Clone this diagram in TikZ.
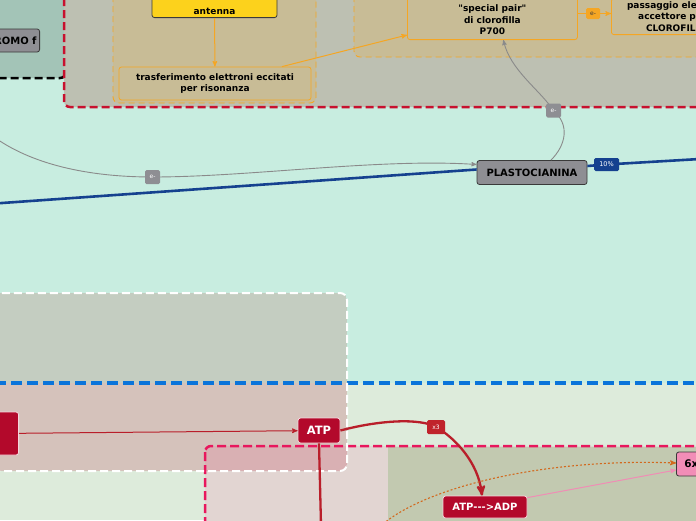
\documentclass[tikz,border=0pt]{standalone}
\usepackage{fontspec}
\setmainfont{DejaVu Sans}[Ligatures=TeXOff]
\usepackage{xcolor}
\usepackage{tikz}
\usetikzlibrary{positioning, arrows, calc, shapes}
\definecolor{mintbg}{HTML}{C8EDE0}
\definecolor{lightbg}{HTML}{DDEBDB}
\definecolor{tealzone}{HTML}{A3C4B7}
\definecolor{greyzone}{HTML}{BDC0B2}
\definecolor{tanzone}{HTML}{C8BC96}
\definecolor{whitezone}{HTML}{C4CDC1}
\definecolor{lowpink}{HTML}{E2D5D2}
\definecolor{lowolive}{HTML}{C2C9B0}
\definecolor{crimsonline}{HTML}{C8102E}
\definecolor{pinkline}{HTML}{E8175D}
\definecolor{bluedash}{HTML}{0A74DA}
\definecolor{orangeline}{HTML}{F5A623}
\definecolor{sunfill}{HTML}{FCD21C}
\definecolor{greyfill}{HTML}{8E8E93}
\definecolor{greyedge}{HTML}{3A3A3A}
\definecolor{greyarrow}{HTML}{8A8A8A}
\definecolor{bluelink}{HTML}{15418F}
\definecolor{crimson}{HTML}{B3092B}
\definecolor{atpedge}{HTML}{F5D5DC}
\definecolor{redarrow}{HTML}{B91E2A}
\definecolor{redtagfill}{HTML}{C0232B}
\definecolor{pinknode}{HTML}{F28DB7}
\definecolor{pinkarrow}{HTML}{F08DB5}
\definecolor{dotorange}{HTML}{D2691E}
\tikzset{
    topic/.style={
        rectangle,
        draw,
        rounded corners=2.5pt,
        align=center,
        line width=0.8pt,
        inner sep=3pt,
        font=\bfseries\fontsize{9}{11.5}\selectfont
    },
    tannode/.style={topic, draw=orangeline, fill=tanzone},
    sunnode/.style={topic, draw=greyedge, fill=sunfill},
    greynode/.style={topic, draw=greyedge, fill=greyfill, font=\bfseries\fontsize{10}{12}\selectfont},
    rednode/.style={topic, draw=atpedge, fill=crimson, text=white, font=\bfseries\fontsize{10}{12}\selectfont},
    pinkbox/.style={topic, draw=greyedge, fill=pinknode, inner xsep=8pt, font=\bfseries\fontsize{10.5}{12}\selectfont},
    tagbox/.style={
        rectangle,
        rounded corners=1.5pt,
        text=white,
        inner sep=1pt,
        font=\fontsize{6}{7}\selectfont
    },
    arrow/.style={
        ->,
        >=stealth'
    },
    zone/.style={rounded corners=6pt}
}

\begin{document}
\begin{tikzpicture}[x=1pt, y=-1pt]
    \useasboundingbox (0,0) rectangle (696,520);
    \clip (0,0) rectangle (696,520);
    \fill[mintbg] (0,0) rectangle (696,383);
    \fill[lightbg] (0,383) rectangle (696,520);

    \draw[zone, fill=tealzone, draw=black, line width=2.5pt, dash pattern=on 8pt off 4pt] (-20,-20) rectangle (66,78);
    \draw[zone, fill=greyzone, draw=crimsonline, line width=2.5pt, dash pattern=on 8pt off 4pt] (64,-20) rectangle (720,107);
    \draw[zone, fill=tanzone, draw=orangeline, line width=0.9pt, dash pattern=on 6pt off 4pt] (113,-20) rectangle (316,103);
    \draw[zone, fill=tanzone, draw=orangeline, line width=0.9pt, dash pattern=on 6pt off 4pt] (354,-20) rectangle (720,57);

    \fill[zone, lowpink] (205,446) rectangle (720,540);
    \fill[lowolive] (388,447) rectangle (720,540);
    \begin{scope}
        \clip[rounded corners=7pt] (-20,293) rectangle (347,471);
        \fill[whitezone] (-20,293) rectangle (347,383);
        \fill[crimson, fill opacity=0.18] (-20,383) rectangle (347,471);
    \end{scope}
    \draw[bluedash, line width=3.5pt, dash pattern=on 11pt off 5pt] (-5,383) -- (700,383);
    \draw[zone, pinkline, line width=2.5pt, dash pattern=on 9pt off 4pt] (205,446) rectangle (720,540);
    \draw[rounded corners=7pt, white, line width=2pt, dash pattern=on 8pt off 4pt] (-20,293) rectangle (347,471);

    \node[greynode, anchor=east, minimum height=23pt] (cito) at (40,40.5) {CITOCROMO f};
    \node[sunnode, anchor=south, minimum width=125pt] (antenna) at (214.5,18) {\strut\\antenna};
    \node[tannode, minimum width=192pt, minimum height=33pt] (risonanza) at (215,83.5) {trasferimento elettroni eccitati\\per risonanza};
    \node[tannode, anchor=south west, minimum width=170pt, inner ysep=4.5pt] (pair) at (407,40) {\strut\\"special pair"\\di clorofilla\\P700};
    \node[tannode, anchor=south west, minimum width=148pt] (passaggio) at (611,35) {passaggio elettroni all'\\accettore primario\\CLOROFILLA A0};
    \node[greynode, minimum width=110pt, minimum height=24pt] (plasto) at (532,172.5) {PLASTOCIANINA};
    \node[rednode, anchor=east, minimum width=40pt, minimum height=43pt] (source) at (19,433.5) {};
    \node[rednode, minimum width=42pt, minimum height=25pt, font=\bfseries\fontsize{11.5}{13}\selectfont] (atp) at (319,430.5) {ATP};
    \node[rednode, minimum width=84pt, minimum height=22pt] (adp) at (485,507) {ATP--->ADP};
    \node[pinkbox, anchor=west, minimum height=24pt] (sixx) at (676,464) {6x};

    \coordinate (greyin) at (-10,134);
    \coordinate (bluein) at (-5,203.5);
    \coordinate (blueout) at (700,159);
    \coordinate (atpdown) at (321,525);
    \coordinate (dotin) at (383,524);
    \coordinate (e1pos) at (152.5,177);
    \coordinate (e2pos) at (553.5,110.5);
    \coordinate (e3pos) at (593,13.5);
    \coordinate (tenpos) at (606.5,164.5);
    \coordinate (x3pos) at (436,427);

    \draw[arrow, orangeline, line width=1pt] (antenna) -- (risonanza);
    \draw[arrow, orangeline, line width=1pt] ([xshift=67pt]risonanza.north) -- ([yshift=5pt]pair.south west);
    \draw[arrow, orangeline, line width=1pt] (pair.east |- e3pos) -- (passaggio.west |- e3pos);
    \draw[arrow, greyarrow, line width=0.9pt] (greyin) .. controls (30,165) and (90,177) .. (e1pos) .. controls (250,177) and (380,158) .. ([yshift=8pt]plasto.west);
    \draw[arrow, greyarrow, line width=0.9pt] ([xshift=19pt]plasto.north) .. controls (566,145) and (570,125) .. (e2pos) .. controls (540,90) and (510,70) .. ([xshift=11pt]pair.south);
    \draw[bluelink, line width=2.6pt] (bluein) -- ([yshift=3pt]plasto.west);
    \draw[bluelink, line width=2.6pt] ([yshift=6.5pt]plasto.east) -- (tenpos) -- (blueout);
    \draw[arrow, redarrow, line width=1pt] (source) -- (atp);
    \draw[redarrow, line width=2.3pt] (atp.south) -- (atpdown);
    \draw[arrow, redarrow, line width=2.3pt] (atp.east) .. controls (380,420) and (420,418) .. (x3pos) .. controls (455,438) and (478,462) .. ([xshift=-3pt]adp.north);
    \draw[arrow, pinkarrow, line width=1pt] ([yshift=-2pt]adp.north east) -- ([yshift=-6pt]sixx.west);
    \draw[arrow, dotorange, line width=1.1pt, dash pattern=on 2pt off 2pt] (dotin) .. controls (430,485) and (550,458) .. ([yshift=1pt]sixx.west);

    \node[tagbox, fill=greyfill, minimum width=15pt, minimum height=14pt] (e1) at (e1pos) {e-};
    \node[tagbox, fill=greyfill, minimum width=15pt, minimum height=14pt] (e2) at (e2pos) {e-};
    \node[tagbox, fill=orangeline, text=greyedge, minimum width=14pt, minimum height=11pt] (e3) at (e3pos) {e-};
    \node[tagbox, fill=bluelink, minimum width=25pt, minimum height=13pt, font=\fontsize{6.5}{7}\selectfont] (ten) at (tenpos) {10\%};
    \node[tagbox, fill=redtagfill, minimum width=18pt, minimum height=14pt] (x3) at (x3pos) {x3};
\end{tikzpicture}
\end{document}
